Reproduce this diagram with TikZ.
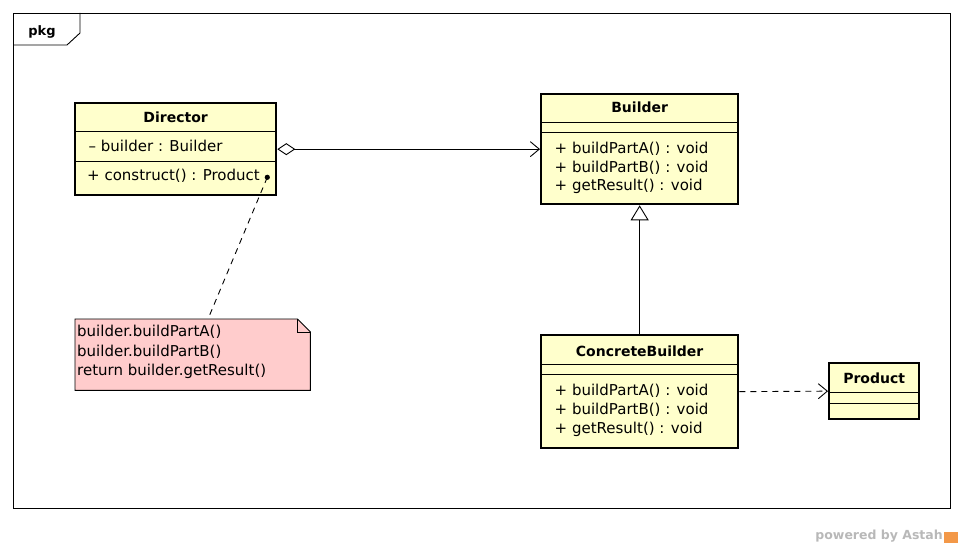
\documentclass[tikz,border=0pt]{standalone}
\usepackage{fontspec}
\setmainfont{DejaVu Sans}
\usepackage{tikz}
\usetikzlibrary{calc}
\usetikzlibrary{arrows.meta}
\definecolor{clsfill}{RGB}{255,255,204}
\definecolor{notefill}{RGB}{255,204,204}
\definecolor{astahorange}{RGB}{243,152,72}

\begin{document}
\begin{tikzpicture}[x=1pt, y=-1pt,
  cls/.style={draw, line width=2.3pt, fill=clsfill, inner sep=0, anchor=north west},
  clsname/.style={anchor=base, inner sep=0, font=\bfseries\fontsize{14}{17}\selectfont},
  member/.style={anchor=base west, inner sep=0, font=\fontsize{15}{19}\selectfont},
  sep/.style={line width=0.9pt},
  conn/.style={line width=0.9pt}]
\useasboundingbox (0,0) rectangle (964,548);
% frame
\draw[line width=0.9pt] (13,13) rectangle (950,508);
\draw[line width=0.9pt] (13,45) -- (67,45) -- (80,33) -- (80,13);
\node[name=pkg, anchor=base, inner sep=0, font=\bfseries\fontsize{13}{15}\selectfont] at (42,36) {pkg};
% classes
\node[name=director, cls, minimum width=201pt, minimum height=92pt] at (74,102) {};
\draw[sep] ($(director.north west)+(0,29)$) -- ($(director.north east)+(0,29)$);
\draw[sep] ($(director.north west)+(0,59)$) -- ($(director.north east)+(0,59)$);
\node[name=directorname, clsname] at ($(director.north)+(0,21)$) {Director};
\node[name=directorattr, member] at (88.5,151.5) {– builder : Builder};
\node[name=directorop, member] at (87,181) {+ construct() : Product};

\node[name=builder, cls, minimum width=197pt, minimum height=110pt] at (540,93) {};
\draw[sep] ($(builder.north west)+(0,29)$) -- ($(builder.north east)+(0,29)$);
\draw[sep] ($(builder.north west)+(0,39)$) -- ($(builder.north east)+(0,39)$);
\node[name=buildername, clsname] at ($(builder.north)+(0,19.5)$) {Builder};
\node[name=builderopa, member] at (554.5,154) {+ buildPartA() : void};
\node[name=builderopb, member] at (554.5,172.5) {+ buildPartB() : void};
\node[name=builderopc, member] at (554.5,191) {+ getResult() : void};

\node[name=concrete, cls, minimum width=197pt, minimum height=113pt] at (540,334) {};
\draw[sep] ($(concrete.north west)+(0,30)$) -- ($(concrete.north east)+(0,30)$);
\draw[sep] ($(concrete.north west)+(0,40)$) -- ($(concrete.north east)+(0,40)$);
\node[name=concretename, clsname] at ($(concrete.north)+(0,22)$) {ConcreteBuilder};
\node[name=concreteopa, member] at (554.5,395) {+ buildPartA() : void};
\node[name=concreteopb, member] at (554.5,414) {+ buildPartB() : void};
\node[name=concreteopc, member] at (554.5,433) {+ getResult() : void};

\node[name=product, cls, minimum width=90pt, minimum height=56pt] at (828,362) {};
\draw[sep] ($(product.north west)+(0,30)$) -- ($(product.north east)+(0,30)$);
\draw[sep] ($(product.north west)+(0,41)$) -- ($(product.north east)+(0,41)$);
\node[name=productname, clsname] at ($(product.north)+(0,21.5)$) {Product};
% note
\node[name=note, anchor=north west, inner sep=0, minimum width=235pt, minimum height=71pt] at (75,319) {};
\filldraw[fill=notefill, line width=0.9pt] (note.north west) -- ($(note.north east)+(-13,0)$)
  -- ($(note.north east)+(0,13)$) -- (note.south east) -- (note.south west) -- cycle;
\draw[line width=0.9pt] ($(note.north east)+(-13,0)$) -- ($(note.north east)+(-13,13)$) -- ($(note.north east)+(0,13)$);
\node[name=notea, member] at (77,336.5) {builder.buildPartA()};
\node[name=noteb, member] at (77,356) {builder.buildPartB()};
\node[name=notec, member] at (77,375.5) {return builder.getResult()};
% connectors
\draw[conn, {Diamond[open,length=18pt,width=12pt]}-{Straight Barb[length=9pt,width=15pt]}] (director.east) -- (builder.west);
\draw[conn, -{Triangle[open,length=15pt,width=18pt]}] (concrete.north) -- (builder.south);
\draw[conn, dash pattern=on 6pt off 5pt, -{Straight Barb[length=9pt,width=15pt]}] (concrete.east) -- (product.west);
\coordinate (dot) at ($(director.south east)+(-10,-19)$);
\coordinate (notetop) at ($(note.north west)+(133,0)$);
\fill (dot) circle (2.6);
\draw[conn, dash pattern=on 6pt off 5pt] (dot) -- (notetop);
% watermark
\node[name=astah, anchor=base east, inner sep=0, text=black!28, font=\bfseries\fontsize{12.5}{14}\selectfont] at (943,539.5) {powered by Astah};
\fill[astahorange] ($(astah.base east)+(0.5,3)$) rectangle ($(astah.base east)+(15,-8)$);
\end{tikzpicture}
\end{document}
